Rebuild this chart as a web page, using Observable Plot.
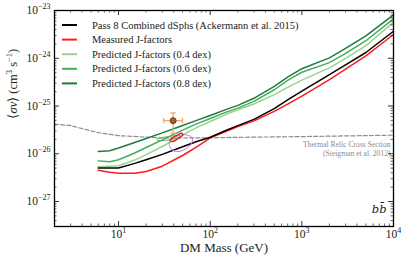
<!DOCTYPE html>
<html><head><meta charset="utf-8">
<script src="https://cdn.jsdelivr.net/npm/d3@7"></script>
<script src="https://cdn.jsdelivr.net/npm/@observablehq/plot@0.6"></script>
<style>
body{margin:0;background:#fff;}
#chart{width:407px;height:264px;}
#chart svg{font-family:"Liberation Serif",serif;background:#fff;}
</style></head><body><div id="chart"></div>
<script>
// ---- data ----
const mass = [6,8,10,15,20,30,50,70,100,150,200,300,500,700,1000,2000,3000,5000,10000];
const pass8   = [5.04e-27,5.04e-27,5.04e-27,6.3e-27,7.5e-27,9.7e-27,1.40e-26,1.79e-26,2.22e-26,3.11e-26,3.88e-26,5.26e-26,8.83e-26,1.34e-25,2.05e-25,4.55e-25,7.28e-25,1.32e-24,3.68e-24];
const measured= [4.53e-27,4.11e-27,3.92e-27,3.90e-27,4.27e-27,5.5e-27,9.2e-27,1.36e-26,2.15e-26,2.95e-26,3.7e-26,4.88e-26,7.7e-26,1.10e-25,1.61e-25,3.57e-25,5.9e-25,1.12e-24,3.14e-24];
const pred04  = [5.37e-27,5.5e-27,5.62e-27,7.38e-27,9.57e-27,1.42e-26,2.49e-26,3.49e-26,4.75e-26,6.7e-26,8.32e-26,1.10e-25,1.73e-25,2.46e-25,3.48e-25,6.3e-25,9.95e-25,1.83e-24,5.69e-24];
const pred06  = [7.1e-27,6.82e-27,7.48e-27,1.04e-26,1.35e-26,1.95e-26,3.13e-26,4.18e-26,5.47e-26,7.45e-26,9.04e-26,1.25e-25,2.19e-25,3.43e-25,5.09e-25,8.09e-25,1.27e-24,2.33e-24,6.7e-24];
const pred08  = [1.11e-26,1.16e-26,1.32e-26,1.72e-26,2.09e-26,2.74e-26,3.90e-26,4.94e-26,6.35e-26,8.49e-26,1.03e-25,1.45e-25,2.58e-25,4.02e-25,6.05e-25,1.02e-24,1.61e-24,2.95e-24,8.13e-24];

const relicMass = [2,3,4,6,10,20,30,50,100,200,1000,10000];
const relicSv   = [4.17e-26,3.9e-26,3.36e-26,2.78e-26,2.4e-26,2.23e-26,2.15e-26,2.14e-26,2.15e-26,2.21e-26,2.29e-26,2.45e-26];

const seriesNames = ["Pass 8 Combined dSphs (Ackermann et al. 2015)","Measured J-factors","Predicted J-factors (0.4 dex)","Predicted J-factors (0.6 dex)","Predicted J-factors (0.8 dex)"];
const seriesColors = ["#000000","#ff1a1a","#98d38f","#45ad5e","#1f7a3d"];

// GCE point with error bars
const gceMass = 39.4, gceSv = 4.94e-26, gceMassLo = 31.1, gceMassHi = 49.9, gceSvLo = 2.68e-26, gceSvHi = 7.16e-26;

// contours
const redMass = [36.7,39.1,44.4,50.4,49.1,43.3,38.1,36.2];
const redSv   = [1.84e-26,1.79e-26,2.07e-26,2.45e-26,2.70e-26,2.45e-26,2.12e-26,1.93e-26];
const magMass = [35.8,38.1,44.4,54.3,63.1,63.1,52.9,42.2];
const magSv   = [1.63e-26,1.22e-26,1.11e-26,1.28e-26,1.71e-26,2.18e-26,2.51e-26,2.28e-26];
const grnMass = [26.1,28.2,36.2,45.5,46.7,41.1,31.9,26.8];
const grnSv   = [1.98e-26,1.88e-26,1.98e-26,2.23e-26,2.39e-26,2.39e-26,2.23e-26,2.07e-26];

const xTickValues = [10,100,1000,10000];
const xTickLabels = ["10^1","10^2","10^3","10^4"];
const yTickValues = [1e-27,1e-26,1e-25,1e-24,1e-23];
const yTickLabels = ["10^\u221227","10^\u221226","10^\u221225","10^\u221224","10^\u221223"];
const xDomain = [2,1e4], yDomain = [3e-28,1e-23];
const xLabel = "DM Mass (GeV)";
const yLabel = "\u27E8\u03C3v\u27E9 (cm^3 s^\u22121)";
const relicNote = "Thermal Relic Cross Section\n(Steigman et al. 2012)";
const channelLabel = "bb\u0304";

// ---- build ----
const W = 407, H = 264, mL = 54, mR = 14, mT = 10, mB = 38;
const fw = W - mL - mR, fh = H - mT - mB;
const rows = (ys) => mass.map((m,i) => ({m, v: ys[i]}));
const pts = (ms, vs) => ms.map((m,i) => ({m, v: vs[i]}));
const xAll = d3.scaleLog().domain(xDomain).ticks().filter(t => !xTickValues.includes(t));
const yAll = d3.scaleLog().domain(yDomain).ticks().filter(t => !yTickValues.some(v => Math.abs(v/t - 1) < 1e-6));
const capH = {draw(c,s){const r=Math.sqrt(s/Math.PI); c.moveTo(-r,0); c.lineTo(r,0);}};
const capV = {draw(c,s){const r=Math.sqrt(s/Math.PI); c.moveTo(0,-r); c.lineTo(0,r);}};
const errCol = "#f2a55c";
const seriesData = [pass8, measured, pred04, pred06, pred08];
const drawOrder = [2,3,4,1,0];

const svg = Plot.plot({
  width: W, height: H, marginLeft: mL, marginRight: mR, marginTop: mT, marginBottom: mB,
  x: {type: "log", domain: xDomain, axis: null},
  y: {type: "log", domain: yDomain, axis: null},
  style: {fontFamily: "Liberation Serif, serif", background: "#fff"},
  marks: [
    Plot.line(pts(relicMass, relicSv), {x: "m", y: "v", stroke: "#8c8c8c", strokeWidth: 1.2, strokeDasharray: "4,2.2"}),
    ...drawOrder.map(i => Plot.line(rows(seriesData[i]), {x: "m", y: "v", stroke: seriesColors[i], strokeWidth: 1.5})),
    Plot.line(pts(grnMass, grnSv), {x: "m", y: "v", curve: "catmull-rom-closed", stroke: "#6aaa5a", strokeWidth: 1}),
    Plot.line(pts(magMass, magSv), {x: "m", y: "v", curve: "catmull-rom-closed", stroke: "#d46fe0", strokeWidth: 1}),
    Plot.line(pts(redMass, redSv), {x: "m", y: "v", curve: "catmull-rom-closed", stroke: "#ff0000", strokeWidth: 1.1}),
    Plot.ruleX([0], {x: () => gceMass, y1: () => gceSvLo, y2: () => gceSvHi, stroke: errCol, strokeWidth: 1.2}),
    Plot.ruleY([0], {y: () => gceSv, x1: () => gceMassLo, x2: () => gceMassHi, stroke: errCol, strokeWidth: 1.2}),
    Plot.dot([gceSvLo, gceSvHi], {x: () => gceMass, y: d => d, symbol: capH, r: 2.6, stroke: errCol, fill: "none", strokeWidth: 1.2}),
    Plot.dot([gceMassLo, gceMassHi], {x: d => d, y: () => gceSv, symbol: capV, r: 2.6, stroke: errCol, fill: "none", strokeWidth: 1.2}),
    Plot.dot([0], {x: () => gceMass, y: () => gceSv, r: 3, fill: "#a2622b", stroke: "#4a2a10", strokeWidth: 0.8}),
    // relic note + channel label
    Plot.text([relicNote], {x: () => xDomain[1], y: () => 2.2e-26, text: d => d, textAnchor: "end", lineAnchor: "top", dx: -3, dy: 4, fontSize: 7.6, lineHeight: 1.1, fill: "#8c8c8c"}),
    Plot.text([channelLabel], {frameAnchor: "bottom-right", text: d => d, textAnchor: "end", dx: -7, dy: -14, fontSize: 11.5, fontStyle: "italic", fontFamily: "DejaVu Serif", fill: "#222"}),
    // ticks (inward, all four sides)
    Plot.tickX(xTickValues, {x: d => d, insetTop: fh - 5, stroke: "#000", strokeWidth: 0.8}),
    Plot.tickX(xTickValues, {x: d => d, insetBottom: fh - 5, stroke: "#000", strokeWidth: 0.8}),
    Plot.tickX(xAll, {x: d => d, insetTop: fh - 2.5, stroke: "#000", strokeWidth: 0.6}),
    Plot.tickX(xAll, {x: d => d, insetBottom: fh - 2.5, stroke: "#000", strokeWidth: 0.6}),
    Plot.tickY(yTickValues, {y: d => d, insetRight: fw - 5, stroke: "#000", strokeWidth: 0.8}),
    Plot.tickY(yTickValues, {y: d => d, insetLeft: fw - 5, stroke: "#000", strokeWidth: 0.8}),
    Plot.tickY(yAll, {y: d => d, insetRight: fw - 2.5, stroke: "#000", strokeWidth: 0.6}),
    Plot.tickY(yAll, {y: d => d, insetLeft: fw - 2.5, stroke: "#000", strokeWidth: 0.6}),
    Plot.frame({stroke: "#000", strokeWidth: 1.3}),
    // tick labels
    Plot.text(xTickValues, {x: d => d, frameAnchor: "bottom", text: (d,i) => xTickLabels[i], dy: 11, fontSize: 11.5, fill: "#222", ariaDescription: "suplabel"}),
    Plot.text(yTickValues, {y: d => d, frameAnchor: "left", text: (d,i) => yTickLabels[i], textAnchor: "end", dx: -4, fontSize: 11.5, fill: "#222", ariaDescription: "suplabel"}),
    // axis labels
    Plot.text([xLabel], {frameAnchor: "bottom", text: d => d, dy: 25, fontSize: 13, fill: "#222"}),
    Plot.text([yLabel], {frameAnchor: "left", text: d => d, rotate: -90, dx: -42, fontSize: 12.5, fill: "#222", ariaDescription: "ylabel"})
  ]
});

const ns = "http://www.w3.org/2000/svg";
function supify(t, supSize) {
  const s = t.textContent; t.textContent = "";
  const parts = s.split(/(\^[^ )]+)/);
  let up = false;
  parts.forEach(p => {
    if (!p) return;
    const ts = document.createElementNS(ns, "tspan");
    if (p.startsWith("^")) {
      ts.textContent = p.slice(1); ts.setAttribute("font-size", supSize); ts.setAttribute("dy", "-5"); up = true;
    } else {
      ts.textContent = p; if (up) { ts.setAttribute("dy", "5"); up = false; }
    }
    t.appendChild(ts);
  });
}
svg.querySelectorAll('g[aria-description="suplabel"] text').forEach(t => supify(t, 8));
svg.querySelectorAll('g[aria-description="ylabel"] text').forEach(t => {
  supify(t, 8.5);
  const first = t.querySelector("tspan");
  if (first) {
    const txt = first.textContent; first.textContent = "";
    const a = document.createElementNS(ns,"tspan"); a.textContent = txt.slice(0,1);
    const b = document.createElementNS(ns,"tspan"); b.textContent = txt.slice(1,3); b.setAttribute("font-style","italic");
    const c = document.createElementNS(ns,"tspan"); c.textContent = txt.slice(3);
    t.insertBefore(c, first.nextSibling); t.insertBefore(b, c); t.insertBefore(a, b); first.remove();
  }
});

// legend (inside plot, no frame)
const lg = d3.select(svg).append("g").attr("font-size", 10.5).attr("fill", "#222").attr("text-anchor", "start");
seriesNames.forEach((name, i) => {
  const y = 25 + i * 14.6;
  lg.append("line").attr("x1", 62).attr("x2", 77).attr("y1", y).attr("y2", y).attr("stroke", seriesColors[i]).attr("stroke-width", 2);
  lg.append("text").attr("x", 92).attr("y", y).attr("dy", "0.34em").text(name);
});

document.getElementById("chart").appendChild(svg);
</script>
</body></html>
